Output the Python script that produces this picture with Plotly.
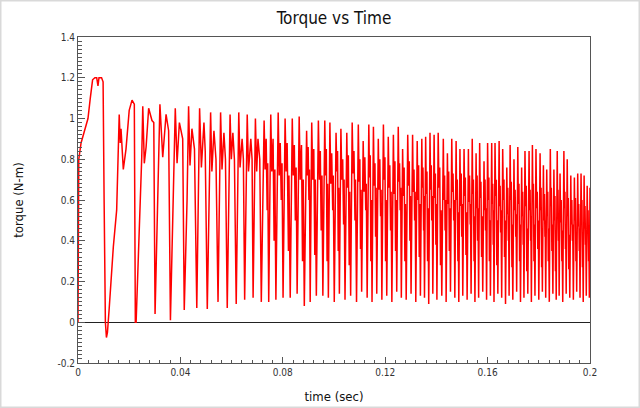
import plotly.graph_objects as go

# ---------------- data (time in ms, torque in N-m) ----------------
startup_ms = [0, 0.3, 1.2, 2.2, 3.1, 3.9, 4.8, 5.7, 6.6, 7.3, 7.8, 8.2, 9.2, 9.8, 10.2, 10.7, 11.1, 11.5,
              12.2, 13.8, 15.1, 15.9, 16.1, 16.5, 16.8, 17.7, 18.75, 20.0, 21.1, 22.0, 22.4,
              22.7, 23.3, 24.2, 24.9, 25.3, 25.9, 26.6, 27.6, 28.9, 29.6, 30.1,
              30.7, 31.5, 32.0, 33.1, 34.4, 35.4, 36.1,
              37.0, 38.0, 38.7, 39.6, 40.9, 41.5,
              42.6, 43.2, 43.75, 44.5, 45.5, 46.4,
              47.5, 48.2, 49.2, 49.7, 50.5,
              51.8, 52.3, 53.1, 53.9, 54.7,
              55.7, 56.25, 57.0, 57.6, 58.3,
              59.4, 59.9, 60.5, 61.1, 61.8,
              62.8, 63.3, 64.1, 64.6, 65.1,
              66.1, 66.6, 67.5, 68.0, 68.4,
              69.3, 69.8, 70.3, 71.0, 71.6]
startup_torque = [0.0, 0.8, 0.88, 0.92, 0.96, 1.0, 1.1, 1.19, 1.2, 1.2, 1.16, 1.2, 1.2, 1.18, 0.6, 0.0, -0.075, -0.05,
                  0.07, 0.37, 0.55, 0.88, 1.02, 0.88, 0.95, 0.75, 0.85, 1.04, 1.09, 1.07, 0.0,
                  0.0, 0.2, 0.58, 0.81, 1.06, 0.78, 0.86, 1.05, 0.99, 0.98, 0.04,
                  0.37, 0.7, 1.07, 0.81, 1.02, 0.94, 0.01,
                  0.5, 1.05, 0.78, 0.98, 0.9, 0.06,
                  0.6, 1.06, 0.77, 0.95, 0.85, 0.07,
                  1.05, 0.76, 0.98, 0.84, 0.065,
                  1.03, 0.74, 0.94, 0.8, 0.1,
                  1.03, 0.75, 0.93, 0.8, 0.07,
                  1.02, 0.8, 0.93, 0.8, 0.09,
                  1.03, 0.76, 0.9, 0.8, 0.11,
                  1.02, 0.74, 0.9, 0.8, 0.12,
                  1.0, 0.74, 0.9, 0.8, 0.1]

# ripple cycles: each cycle = peak, dip, second peak, partial dip, rebound, trough
peak_ms = [72.7, 75.3, 78.2, 80.9, 83.7, 86.4, 89.3, 91.3, 93.9, 96.4, 98.4, 100.8, 102.7, 105.0, 107.1,
           109.5, 111.4, 113.6, 115.4, 117.3, 119.3, 121.2, 123.2, 125.1, 126.8, 128.8, 130.7, 132.5,
           134.3, 135.8, 137.5, 139.1, 140.7, 142.7, 144.3, 146.0, 147.7, 149.2, 150.8, 152.5, 154.0,
           155.5, 156.9, 158.6, 160.0, 161.6, 162.9, 164.5, 165.9, 167.5, 168.8, 170.3, 171.8, 173.3,
           174.6, 176.2, 177.5, 178.9, 180.5, 181.8, 183.1, 184.5, 185.9, 187.2, 188.3, 189.8, 191.1,
           192.5, 193.9, 195.2, 196.5, 197.7, 198.9]
dip_ms = [73.1, 75.7, 78.6, 81.3, 84.1, 86.8, 89.6, 91.7, 94.3, 96.7, 98.75, 101.1, 103.05, 105.3, 107.45,
          109.8, 111.75, 113.85, 115.7, 117.6, 119.6, 121.5, 123.5, 125.35, 127.1, 129.1, 130.95, 132.75,
          134.5, 136.05, 137.75, 139.35, 141.0, 142.95, 144.55, 146.25, 147.9, 149.45, 151.05, 152.7, 154.2,
          155.7, 157.15, 158.8, 160.25, 161.8, 163.15, 164.7, 166.15, 167.7, 169.0, 170.5, 172.0, 173.5,
          174.85, 176.4, 177.7, 179.15, 180.7, 182.0, 183.3, 184.7, 186.1, 187.35, 188.5, 190.0, 191.3,
          192.7, 194.1, 195.4, 196.7, 197.9, 199.1]
pk2_ms = [73.5, 76.2, 79.0, 81.7, 84.5, 87.3, 89.9, 92.1, 94.65, 97.0, 99.1, 101.4, 103.4, 105.6, 107.8,
          110.1, 112.05, 114.15, 116.0, 117.9, 119.9, 121.8, 123.8, 125.6, 127.4, 129.4, 131.25, 133.05,
          134.75, 136.3, 138.0, 139.6, 141.3, 143.2, 144.8, 146.5, 148.15, 149.7, 151.3, 152.95, 154.45,
          155.9, 157.4, 159.0, 160.5, 162.0, 163.4, 164.9, 166.4, 167.9, 169.25, 170.75, 172.25, 173.7,
          175.1, 176.6, 177.9, 179.4, 180.9, 182.2, 183.5, 184.9, 186.3, 187.5, 188.75, 190.2, 191.5,
          192.9, 194.3, 195.6, 196.85, 198.05, 199.25]
part_ms = [73.9, 76.6, 79.4, 82.2, 84.9, 87.7, 90.2, 92.5, 95.0, 97.3, 99.5, 101.65, 103.75, 105.95, 108.2,
           110.35, 112.4, 114.4, 116.25, 118.2, 120.15, 122.1, 124.05, 125.85, 127.7, 129.65, 131.5, 133.3,
           135.0, 136.55, 138.2, 139.8, 141.6, 143.4, 145.05, 146.75, 148.4, 149.9, 151.55, 153.2, 154.7,
           156.1, 157.65, 159.2, 160.7, 162.2, 163.6, 165.1, 166.6, 168.1, 169.5, 171.0, 172.5, 173.9,
           175.3, 176.8, 178.1, 179.6, 181.1, 182.4, 183.7, 185.1, 186.5, 187.7, 189.0, 190.4, 191.7,
           193.1, 194.5, 195.8, 197.05, 198.25, 199.45]
reb_ms = [74.1, 76.9, 79.7, 82.4, 85.2, 88.0, 90.4, 92.7, 95.3, 97.5, 99.7, 101.85, 103.95, 106.15, 108.4,
          110.55, 112.6, 114.6, 116.45, 118.4, 120.35, 122.3, 124.25, 126.05, 127.9, 129.85, 131.7, 133.5,
          135.1, 136.75, 138.4, 140.0, 141.8, 143.6, 145.25, 146.95, 148.5, 150.1, 151.75, 153.3, 154.8,
          156.25, 157.85, 159.35, 160.9, 162.3, 163.8, 165.25, 166.8, 168.2, 169.6, 171.1, 172.6, 174.0,
          175.5, 176.9, 178.25, 179.8, 181.2, 182.5, 183.85, 185.25, 186.6, 187.8, 189.1, 190.5, 191.85,
          193.25, 194.6, 195.9, 197.15, 198.35, 199.55]
trough_ms = [74.5, 77.3, 80.1, 82.9, 85.6, 88.4, 90.7, 93.1, 95.65, 97.8, 100.1, 102.1, 104.3, 106.5, 108.8,
             110.8, 112.95, 114.85, 116.7, 118.7, 120.6, 122.6, 124.5, 126.3, 128.2, 130.1, 131.95, 133.75,
             135.35, 137.0, 138.6, 140.2, 142.1, 143.8, 145.5, 147.2, 148.75, 150.3, 152.0, 153.55, 155.05,
             156.5, 158.1, 159.6, 161.1, 162.5, 164.0, 165.5, 167.0, 168.4, 169.85, 171.35, 172.85, 174.2,
             175.7, 177.1, 178.5, 180.0, 181.4, 182.7, 184.1, 185.5, 186.8, 187.95, 189.35, 190.7, 192.1,
             193.5, 194.8, 196.1, 197.35, 198.55, 199.75]

peak_val = [0.99, 1.02, 1.03, 1.0, 1.0, 1.01, 0.94, 0.98, 0.99, 0.99, 0.98, 0.93, 0.95, 0.93, 0.98,
            0.97, 0.89, 0.97, 0.96, 0.9, 0.97, 0.91, 0.92, 0.96, 0.85, 0.92, 0.92, 0.89, 0.9, 0.91,
            0.93, 0.92, 0.93, 0.9, 0.83, 0.9, 0.89, 0.85, 0.85, 0.85, 0.9, 0.83, 0.88, 0.79, 0.88,
            0.88, 0.88, 0.89, 0.85, 0.76, 0.87, 0.8, 0.86, 0.76, 0.84, 0.84, 0.87, 0.85, 0.83, 0.77,
            0.75, 0.85, 0.75, 0.84, 0.73, 0.84, 0.8, 0.72, 0.71, 0.73, 0.73, 0.72, 0.67]
dip_val = [0.75, 0.74, 0.72, 0.74, 0.72, 0.7, 0.72, 0.7, 0.7, 0.72, 0.68, 0.74, 0.7, 0.66, 0.73,
           0.69, 0.64, 0.71, 0.67, 0.65, 0.7, 0.66, 0.63, 0.69, 0.62, 0.67, 0.64, 0.6, 0.66, 0.63,
           0.65, 0.61, 0.66, 0.6, 0.58, 0.64, 0.6, 0.57, 0.62, 0.59, 0.63, 0.56, 0.61, 0.55, 0.6,
           0.58, 0.62, 0.57, 0.6, 0.53, 0.6, 0.55, 0.58, 0.52, 0.57, 0.55, 0.6, 0.56, 0.55, 0.5,
           0.52, 0.57, 0.5, 0.55, 0.49, 0.56, 0.52, 0.48, 0.5, 0.47, 0.5, 0.46, 0.45]
pk2_val = [0.9, 0.9, 0.88, 0.88, 0.87, 0.87, 0.86, 0.85, 0.84, 0.85, 0.83, 0.84, 0.8, 0.82, 0.84,
           0.8, 0.81, 0.82, 0.78, 0.8, 0.81, 0.77, 0.79, 0.78, 0.76, 0.79, 0.75, 0.77, 0.76, 0.74,
           0.77, 0.73, 0.76, 0.72, 0.74, 0.73, 0.7, 0.73, 0.71, 0.72, 0.7, 0.72, 0.69, 0.7, 0.71,
           0.68, 0.7, 0.67, 0.7, 0.66, 0.69, 0.65, 0.68, 0.64, 0.67, 0.65, 0.68, 0.64, 0.66, 0.63,
           0.64, 0.66, 0.62, 0.65, 0.6, 0.64, 0.61, 0.6, 0.61, 0.58, 0.6, 0.57, 0.55]
part_val = [0.55, 0.4, 0.6, 0.35, 0.5, 0.3, 0.6, 0.33, 0.45, 0.3, 0.55, 0.35, 0.48, 0.28, 0.5,
            0.36, 0.55, 0.3, 0.42, 0.52, 0.3, 0.45, 0.35, 0.55, 0.3, 0.4, 0.5, 0.32, 0.45, 0.3,
            0.5, 0.38, 0.28, 0.45, 0.35, 0.5, 0.3, 0.42, 0.33, 0.48, 0.3, 0.4, 0.32, 0.45, 0.3,
            0.38, 0.28, 0.44, 0.32, 0.4, 0.27, 0.42, 0.3, 0.38, 0.25, 0.4, 0.3, 0.36, 0.27, 0.42,
            0.3, 0.35, 0.25, 0.4, 0.3, 0.36, 0.26, 0.4, 0.3, 0.35, 0.27, 0.38, 0.3]
reb_val = [0.78, 0.75, 0.78, 0.72, 0.76, 0.7, 0.75, 0.7, 0.72, 0.68, 0.72, 0.66, 0.7, 0.64, 0.7,
           0.65, 0.68, 0.6, 0.66, 0.65, 0.6, 0.64, 0.6, 0.66, 0.58, 0.62, 0.64, 0.58, 0.62, 0.56,
           0.62, 0.58, 0.55, 0.6, 0.56, 0.6, 0.54, 0.58, 0.54, 0.58, 0.52, 0.56, 0.52, 0.56, 0.5,
           0.55, 0.5, 0.55, 0.5, 0.52, 0.48, 0.53, 0.48, 0.5, 0.46, 0.52, 0.48, 0.5, 0.45, 0.5,
           0.46, 0.48, 0.44, 0.5, 0.45, 0.48, 0.43, 0.48, 0.44, 0.46, 0.42, 0.45, 0.42]
trough_val = [0.1, 0.11, 0.12, 0.12, 0.14, 0.08, 0.1, 0.13, 0.13, 0.12, 0.1, 0.14, 0.11, 0.13, 0.1,
              0.15, 0.12, 0.1, 0.14, 0.11, 0.13, 0.1, 0.15, 0.12, 0.11, 0.14, 0.1, 0.13, 0.12, 0.09,
              0.14, 0.11, 0.13, 0.1, 0.15, 0.12, 0.1, 0.13, 0.11, 0.14, 0.1, 0.12, 0.15, 0.11, 0.13,
              0.1, 0.14, 0.12, 0.09, 0.13, 0.11, 0.15, 0.1, 0.12, 0.14, 0.1, 0.13, 0.11, 0.15, 0.12,
              0.1, 0.14, 0.11, 0.13, 0.1, 0.14, 0.12, 0.11, 0.15, 0.12, 0.1, 0.13, 0.12]

end_ms = [200.0]
end_torque = [0.66]

x_tickvals = [0, 0.04, 0.08, 0.12, 0.16, 0.2]
x_ticktext = ["0", "0.04", "0.08", "0.12", "0.16", "0.2"]
y_tickvals = [-0.2, 0, 0.2, 0.4, 0.6, 0.8, 1.0, 1.2, 1.4]
y_ticktext = ["-0.2", "0", "0.2", "0.4", "0.6", "0.8", "1", "1.2", "1.4"]

# ---------------- assemble the series ----------------
t_ms = list(startup_ms)
torque = list(startup_torque)
for i in range(len(peak_ms)):
    t_ms += [peak_ms[i], dip_ms[i], pk2_ms[i], part_ms[i], reb_ms[i], trough_ms[i]]
    torque += [peak_val[i], dip_val[i], pk2_val[i], part_val[i], reb_val[i], trough_val[i]]
t_ms += end_ms
torque += end_torque
t_sec = [v / 1000.0 for v in t_ms]

FONT = "Liberation Sans Narrow, DejaVu Sans Condensed, Arial Narrow, sans-serif"

fig = go.Figure()
fig.add_trace(go.Scatter(x=t_sec, y=torque, mode="lines",
                         line=dict(color="#ff0000", width=1.5), hoverinfo="skip"))

axis_common = dict(
    showgrid=False, ticks="inside", showline=True, linecolor="#555555", linewidth=1,
    mirror=True, tickcolor="#555555", tickfont=dict(family=FONT, size=10, color="#333333"),
)
fig.update_xaxes(range=[0, 0.2], tickvals=x_tickvals, ticktext=x_ticktext, ticklen=6,
                 zeroline=False,
                 minor=dict(dtick=0.004, ticks="inside", ticklen=3, tickcolor="#555555"),
                 title=dict(text="time (sec)", font=dict(family=FONT, size=13, color="#111111"),
                            standoff=14),
                 **axis_common)
fig.update_yaxes(range=[-0.2, 1.4], tickvals=y_tickvals, ticktext=y_ticktext, ticklen=7,
                 zeroline=True, zerolinecolor="#222222", zerolinewidth=1,
                 minor=dict(dtick=0.02, ticks="inside", ticklen=4, tickcolor="#555555"),
                 title=dict(text="torque (N-m)", font=dict(family=FONT, size=13, color="#111111"),
                            standoff=30),
                 **axis_common)

fig.update_layout(
    width=640, height=408,
    margin=dict(l=78, r=50, t=37, b=45, autoexpand=False),
    paper_bgcolor="white", plot_bgcolor="white",
    showlegend=False,
    title=dict(text="Torque vs Time", xref="paper", x=0.5, xanchor="center",
               y=0.955, yanchor="middle",
               font=dict(family=FONT, size=17, color="#111111")),
)
# light frame round the whole picture
fig.add_shape(type="rect", xref="paper", yref="paper",
              x0=-78 / 512, x1=562 / 512, y0=-45 / 326, y1=363 / 326,
              line=dict(color="#d9d9d9", width=3), fillcolor="rgba(0,0,0,0)", layer="below")

fig.write_html("out.html")
